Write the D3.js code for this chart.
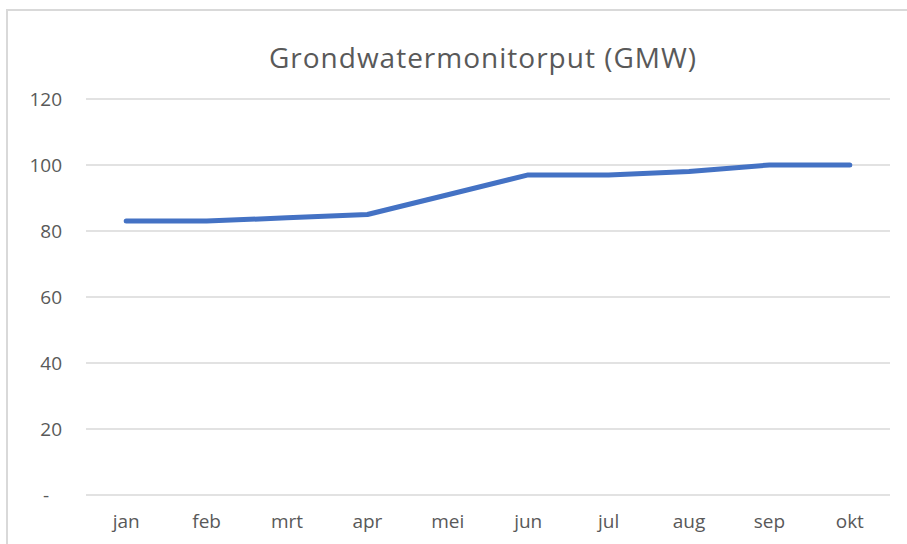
<!DOCTYPE html>
<html>
<head>
<meta charset="utf-8">
<script src="https://cdn.jsdelivr.net/npm/d3@7"></script>
<style>
  body { margin: 0; background: #fff; }
  svg { display: block; }
  .tick text { font-family: "Open Sans", sans-serif; fill: #595959; }
</style>
</head>
<body>
<div id="chart"></div>
<script>
var months = ["jan", "feb", "mrt", "apr", "mei", "jun", "jul", "aug", "sep", "okt"];
var values = [83, 83, 84, 85, 91, 97, 97, 98, 100, 100];
var yTicks = [0, 20, 40, 60, 80, 100, 120];
var title = "Grondwatermonitorput (GMW)";

var width = 907;
var height = 544;
var margin = { top: 99, right: 17, bottom: 49, left: 86 };

var svg = d3.select("#chart")
  .append("svg")
  .attr("width", width)
  .attr("height", height);

// chart frame
svg.append("rect")
  .attr("x", 7)
  .attr("y", 10)
  .attr("width", width + 10)
  .attr("height", height + 10)
  .attr("fill", "none")
  .attr("stroke", "#d9d9d9")
  .attr("stroke-width", 2);

var x = d3.scaleBand()
  .domain(months)
  .range([margin.left, width - margin.right]);

var y = d3.scaleLinear()
  .domain([0, 120])
  .range([height - margin.bottom, margin.top]);

// gridlines
svg.append("g")
  .selectAll("line")
  .data(yTicks)
  .enter()
  .append("line")
  .attr("x1", margin.left)
  .attr("x2", width - margin.right)
  .attr("y1", d => y(d))
  .attr("y2", d => y(d))
  .attr("stroke", "#d9d9d9")
  .attr("stroke-width", 1.5);

var yAxis = svg.append("g")
  .attr("transform", "translate(62,0)")
  .call(d3.axisLeft(y).tickValues(yTicks).tickSize(0).tickPadding(0)
    .tickFormat(d => d === 0 ? "-" : d));
yAxis.select(".domain").remove();
yAxis.selectAll("text").style("font-size", "19px");
yAxis.selectAll(".tick").filter(d => d === 0).select("text").attr("dx", -13);

var xAxis = svg.append("g")
  .attr("transform", "translate(0," + (height - margin.bottom) + ")")
  .call(d3.axisBottom(x).tickSize(0).tickPadding(20));
xAxis.select(".domain").remove();
xAxis.selectAll("text").style("font-size", "19px");

var line = d3.line()
  .x((d, i) => x(months[i]) + x.bandwidth() / 2)
  .y(d => y(d));

svg.append("path")
  .datum(values)
  .attr("d", line)
  .attr("fill", "none")
  .attr("stroke", "#4472c4")
  .attr("stroke-width", 5)
  .attr("stroke-linecap", "round")
  .attr("stroke-linejoin", "round");

svg.append("text")
  .attr("x", 483)
  .attr("y", 68)
  .attr("text-anchor", "middle")
  .style("font-family", "'Open Sans', sans-serif")
  .style("font-size", "28px")
  .style("letter-spacing", "1px")
  .style("fill", "#595959")
  .text(title);
</script>
</body>
</html>
